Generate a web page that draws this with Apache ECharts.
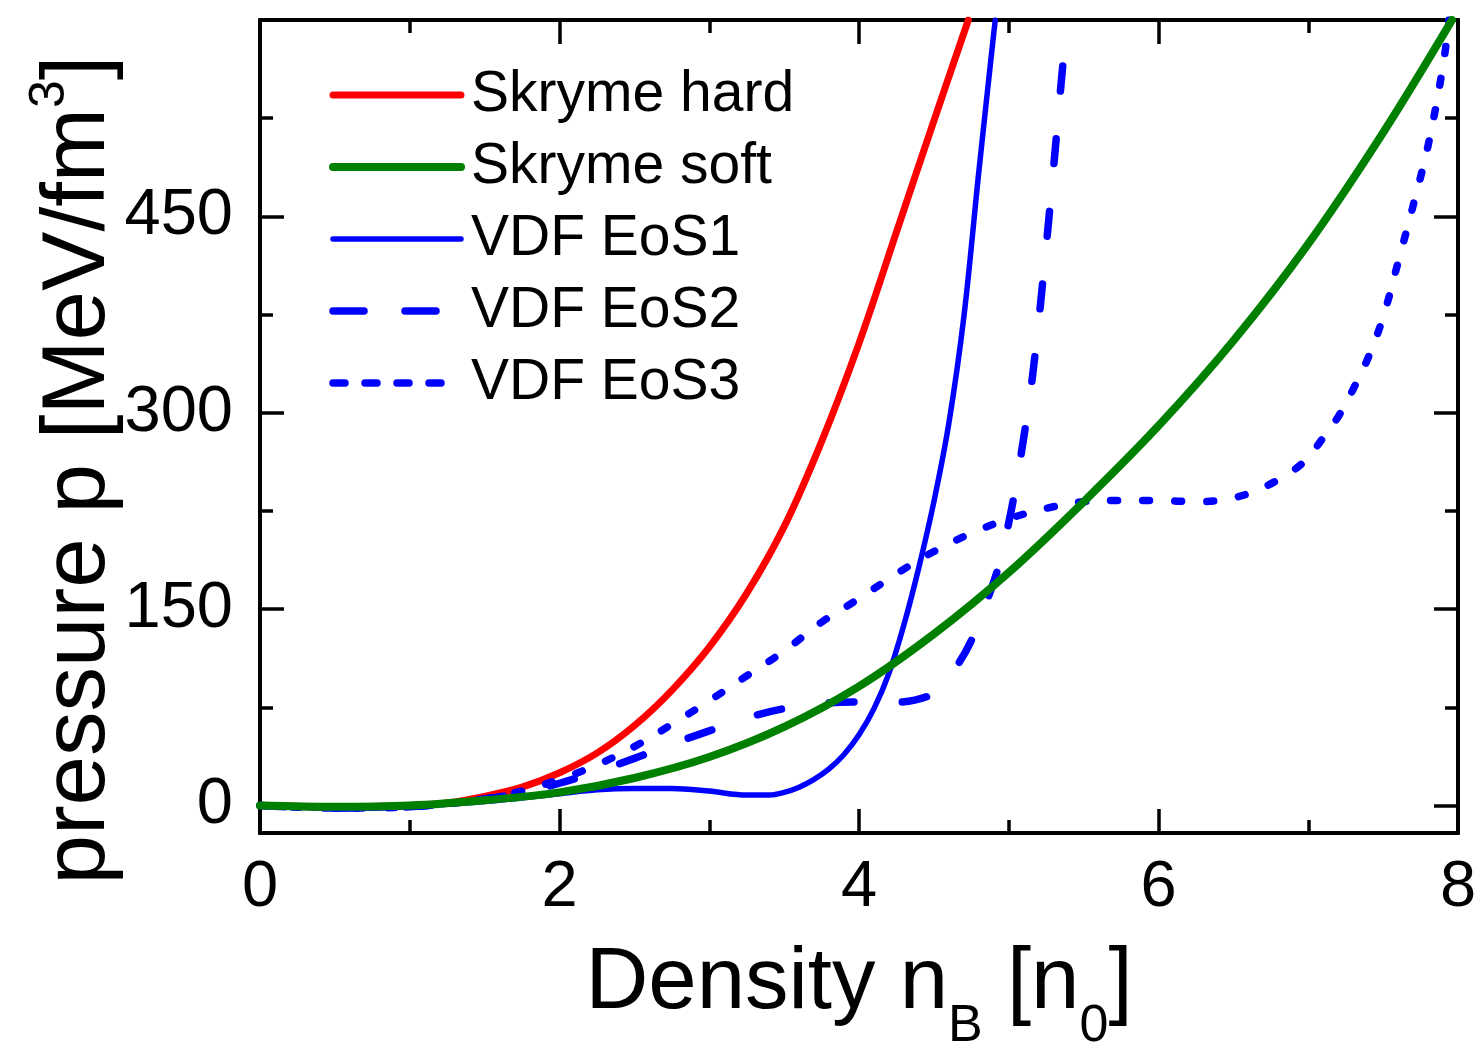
<!DOCTYPE html>
<html>
<head>
<meta charset="utf-8">
<script src="https://cdn.jsdelivr.net/npm/echarts@6/dist/echarts.min.js"></script>
<style>
html,body{margin:0;padding:0;background:#fff;}
#chart{width:1481px;height:1049px;}
</style>
</head>
<body>
<div id="chart"></div>
<script>
// ---------------- data (density n_B [n0], pressure p [MeV/fm^3]) ----------------
const seriesNames = ['Skryme hard', 'Skryme soft', 'VDF EoS1', 'VDF EoS2', 'VDF EoS3'];

const skyrmeHard = [[0,0],[0.5,-1],[1,0],[1.25,2],[1.5,7],[1.75,14],[2,25],[2.25,40],[2.5,61],[2.75,88],[3,121],[3.25,162],[3.5,213],[3.75,278],[4,353],[4.25,438],[4.5,523],[4.73,600]];

const skyrmeSoft = [[0,0],[0.5,-1],[1,0],[1.5,4],[2,10],[2.5,21],[3,37],[3.5,60],[4,91],[4.5,131],[5,178],[5.5,232],[6,290],[6.5,355],[7,429],[7.5,514],[7.96,600]];

const vdfEoS1 = [[0,0],[0.5,-2],[0.75,-2],[1,-1],[1.5,3],[2,9],[2.25,12],[2.5,13],[2.75,13],[3,11],[3.25,8],[3.4,8],[3.5,10],[3.6,14],[3.7,20],[3.8,28],[3.9,39],[4,54],[4.1,74],[4.2,101],[4.3,138],[4.4,182],[4.5,232],[4.6,292],[4.7,373],[4.8,484],[4.9,590],[4.91,600]];

const vdfEoS2 = [[0,0],[0.5,-2],[1,-1],[1.5,5],[1.75,10],[2,17],[2.25,26],[2.5,36],[2.75,47],[3,57],[3.25,67],[3.5,74],[3.75,78],[4,79],[4.25,79],[4.45,83],[4.55,92],[4.65,106],[4.75,126],[4.85,155],[4.93,182],[5,216],[5.05,246],[5.1,281],[5.15,320],[5.2,370],[5.25,427],[5.3,488],[5.35,552],[5.39,600]];

const vdfEoS3 = [[0,0],[0.5,-2],[1,-1],[1.5,5],[1.75,11],[2,20],[2.25,31],[2.5,45],[2.75,62],[3,80],[3.25,99],[3.5,118],[3.75,140],[4,158],[4.25,177],[4.5,194],[4.75,208],[5,219],[5.25,227],[5.5,232],[5.75,233],[6,233],[6.25,232],[6.5,235],[6.7,243],[6.9,256],[7,266],[7.1,281],[7.2,297],[7.3,318],[7.4,342],[7.5,373],[7.6,415],[7.7,458],[7.8,504],[7.9,565],[7.94,600]];

const xTickInterval = 2;
const yMajorTicks = [0, 150, 300, 450];
const yMinorTicks = [75, 225, 375, 525];
const xRange = [0, 8];
const yRange = [-21, 600];

// ---------------- styling ----------------
const FONT = '"Liberation Sans", Arial, Helvetica, sans-serif';
const BLACK = '#000';
const axisLineStyle = {color: BLACK, width: 4};
const tickLineStyle = {color: BLACK, width: 3.5};

function xAx(pos, showLabel) {
  return {
    type: 'value', position: pos, min: xRange[0], max: xRange[1], interval: xTickInterval,
    axisLine: {show: true, onZero: false, lineStyle: axisLineStyle},
    axisTick: {show: true, inside: true, length: 24, lineStyle: tickLineStyle},
    minorTick: {show: true, splitNumber: 2, length: 13, lineStyle: tickLineStyle},
    splitLine: {show: false}, minorSplitLine: {show: false},
    axisLabel: {show: showLabel, fontSize: 65, color: BLACK, fontFamily: FONT, margin: 23},
    nameMoveOverlap: false
  };
}
function yAx(pos, ticks, len, showLabel) {
  return {
    type: 'value', position: pos, min: yRange[0], max: yRange[1],
    axisLine: {show: true, onZero: false, lineStyle: axisLineStyle},
    axisTick: {show: true, inside: true, length: len, customValues: ticks, lineStyle: tickLineStyle},
    splitLine: {show: false},
    axisLabel: {show: showLabel, customValues: ticks, fontSize: 65, color: BLACK, fontFamily: FONT, margin: 27},
    nameMoveOverlap: false
  };
}

const xMain = xAx('bottom', true);
xMain.name = '{a|Density n}{s|B}{a| [n}{s|0}{a|]}';
xMain.nameLocation = 'middle';
xMain.nameGap = 108;
xMain.nameTextStyle = {
  color: BLACK, fontFamily: FONT, fontSize: 87,
  rich: {
    a: {fontSize: 87, lineHeight: 87, verticalAlign: 'top', fontFamily: FONT, color: BLACK},
    s: {fontSize: 52, lineHeight: 52, verticalAlign: 'top', padding: [60, 0, 0, 0], fontFamily: FONT, color: BLACK}
  }
};

const yMain = yAx('left', yMajorTicks, 24, true);
yMain.name = '{a|pressure p [MeV/fm}{p|3}{b|]}';
yMain.nameLocation = 'middle';
yMain.nameGap = 146;
yMain.nameTextStyle = {
  color: BLACK, fontFamily: FONT, fontSize: 89,
  rich: {
    a: {fontSize: 89, lineHeight: 89, verticalAlign: 'top', padding: [10, 0, 0, 0], fontFamily: FONT, color: BLACK},
    p: {fontSize: 50, lineHeight: 50, verticalAlign: 'top', fontFamily: FONT, color: BLACK},
    b: {fontSize: 89, lineHeight: 89, verticalAlign: 'top', padding: [10, 87, 0, 0], fontFamily: FONT, color: BLACK}
  }
};

const colors = ['#ff0000', '#008000', '#0000ff', '#0000ff', '#0000ff'];
const widths = [7, 8, 5.5, 7.5, 7.5];
const plotDash = ['solid', 'solid', 'solid', [25, 48], [7, 25]];
const legendDash = ['solid', 'solid', 'solid', [31, 41], [12, 20]];
const datasets = [skyrmeHard, skyrmeSoft, vdfEoS1, vdfEoS2, vdfEoS3];
const zs = [2, 4, 3, 3, 3];

const series = datasets.map((d, i) => ({
  name: seriesNames[i], type: 'line', data: d,
  xAxisIndex: 0, yAxisIndex: 0,
  symbol: 'none', showSymbol: false,
  smooth: 0.35,
  clip: true, z: zs[i],
  lineStyle: {color: colors[i], width: widths[i], type: plotDash[i], cap: 'round', join: 'round'},
  itemStyle: {color: colors[i]},
  emphasis: {disabled: true},
  animation: false
}));

const option = {
  animation: false,
  backgroundColor: '#fff',
  grid: {left: 260, right: 23, top: 20, bottom: 216, containLabel: false, outerBoundsMode: 'none'},
  xAxis: [xMain, xAx('top', false)],
  yAxis: [yMain, yAx('left', yMinorTicks, 13, false), yAx('right', yMajorTicks, 24, false), yAx('right', yMinorTicks, 13, false)],
  legend: {
    orient: 'vertical', left: 329, top: 65, padding: 0,
    itemWidth: 128, itemHeight: 20, itemGap: 12,
    selectedMode: false,
    itemStyle: {opacity: 0},
    textStyle: {fontSize: 57, lineHeight: 60, color: BLACK, fontFamily: FONT, padding: [0, 0, 0, 5]},
    data: seriesNames.map((n, i) => ({
      name: n,
      itemStyle: {opacity: 0},
      lineStyle: {color: colors[i], width: widths[i], type: legendDash[i], cap: 'round', opacity: 1}
    }))
  },
  series: series
};

const chart = echarts.init(document.getElementById('chart'), null, {renderer: 'canvas'});
chart.setOption(option);
</script>
</body>
</html>
